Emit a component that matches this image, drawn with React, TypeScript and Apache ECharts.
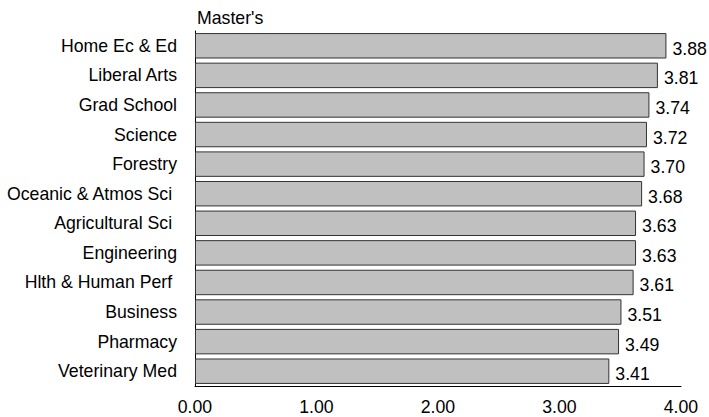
import React, { useEffect, useRef } from "react";
import * as echarts from "echarts";

const categories = [
  "Home Ec & Ed",
  "Liberal Arts",
  "Grad School",
  "Science",
  "Forestry",
  "Oceanic & Atmos Sci ",
  "Agricultural Sci ",
  "Engineering",
  "Hlth & Human Perf ",
  "Business",
  "Pharmacy",
  "Veterinary Med",
];
const values = [3.88, 3.81, 3.74, 3.72, 3.7, 3.68, 3.63, 3.63, 3.61, 3.51, 3.49, 3.41];
const titleText = "Master's";

export default function App() {
  const ref = useRef<HTMLDivElement>(null);
  useEffect(() => {
    if (!ref.current) return;
    const chart = echarts.init(ref.current, undefined, { renderer: "svg" });
    const font = "'Liberation Sans', Arial, Helvetica, sans-serif";
    const fs = 17.7;
    chart.setOption({
      animation: false,
      backgroundColor: "#ffffff",
      title: {
        text: titleText,
        left: 192,
        top: 4,
        textStyle: { fontFamily: font, fontSize: fs, fontWeight: "normal", color: "#000" },
      },
      grid: { left: 195, right: 28, top: 31, bottom: 31, containLabel: false },
      xAxis: {
        type: "value",
        min: 0,
        max: 4,
        interval: 1,
        axisLine: { show: true, lineStyle: { color: "#000", width: 1 } },
        axisTick: { show: false },
        splitLine: { show: false },
        axisLabel: {
          fontFamily: font,
          fontSize: fs,
          color: "#000",
          margin: 12,
          formatter: (v: number) => v.toFixed(2),
        },
      },
      yAxis: {
        type: "category",
        data: categories,
        inverse: true,
        axisLine: { show: true, lineStyle: { color: "#000", width: 1 } },
        axisTick: { show: false },
        axisLabel: { fontFamily: font, fontSize: fs, color: "#000", margin: 18 },
      },
      series: [
        {
          type: "bar",
          data: values,
          barCategoryGap: "14%",
          itemStyle: { color: "#c0c0c0", borderColor: "#333", borderWidth: 1 },
          label: {
            show: true,
            position: "right",
            distance: 6,
            offset: [0, 3],
            fontFamily: font,
            fontSize: fs,
            color: "#000",
            formatter: (p: any) => p.value.toFixed(2),
          },
        },
      ],
    });
    return () => chart.dispose();
  }, []);
  return <div ref={ref} style={{ width: 709, height: 417, position: "absolute", left: 0, top: 0 }} />;
}
